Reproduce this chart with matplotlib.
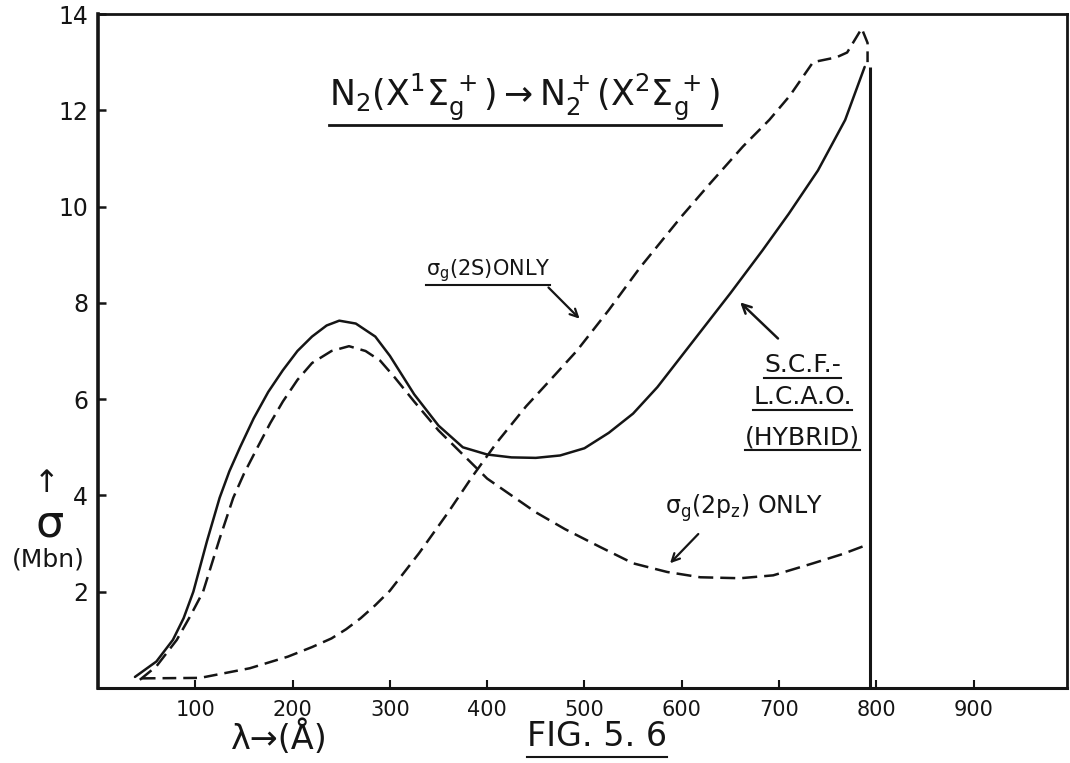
import matplotlib
matplotlib.use("Agg")
import matplotlib.pyplot as plt
from matplotlib.lines import Line2D

# ---------------- data ----------------
lam_hybrid = [38, 60, 77, 88, 98, 112, 125, 135, 146, 160, 175, 190, 205, 220, 235, 248, 265, 285,
              300, 325, 350, 375, 400, 425, 450, 475, 500, 525, 550, 575, 600, 625, 650, 683, 710,
              740, 768, 788]
sig_hybrid = [0.23, 0.55, 1.0, 1.45, 2.0, 3.05, 3.95, 4.5, 5.0, 5.6, 6.15, 6.6, 7.0, 7.3, 7.53, 7.63, 7.57, 7.3,
              6.9, 6.1, 5.45, 5.0, 4.85, 4.79, 4.78, 4.83, 4.98, 5.3, 5.7, 6.25, 6.9, 7.55, 8.2, 9.09, 9.85,
              10.75, 11.8, 12.9]

lam_2p = [43, 60, 81, 95, 108, 125, 139, 150, 164, 177, 190, 205, 220, 240, 258, 275, 290, 305, 325,
          350, 375, 400, 425, 450, 480, 516, 550, 585, 619, 660, 694, 735, 765, 790]
sig_2p = [0.17, 0.45, 1.0, 1.5, 2.0, 3.1, 3.95, 4.45, 5.0, 5.5, 5.95, 6.4, 6.75, 7.0, 7.1, 7.0, 6.8, 6.45, 5.95,
          5.35, 4.85, 4.35, 4.0, 3.65, 3.3, 2.93, 2.59, 2.41, 2.3, 2.28, 2.34, 2.59, 2.78, 2.97]

lam_2s = [45, 105, 156, 195, 220, 240, 255, 270, 285, 300, 330, 360, 385, 410, 440, 465, 492, 525,
          557, 600, 630, 663, 690, 711, 735, 759, 770, 785, 791, 791]
sig_2s = [0.2, 0.21, 0.41, 0.65, 0.85, 1.03, 1.22, 1.45, 1.72, 2.02, 2.8, 3.65, 4.4, 5.1, 5.85, 6.4, 7.0, 7.85,
          8.73, 9.8, 10.5, 11.25, 11.8, 12.3, 13.0, 13.1, 13.2, 13.7, 13.4, 13.0]

threshold_lam = 793          # vertical line (ionisation threshold)
x_ticks = [100, 200, 300, 400, 500, 600, 700, 800, 900]
y_ticks = [2, 4, 6, 8, 10, 12, 14]

title_txt = r"$\mathregular{N_2(X^1\Sigma_g^{\,+}) \rightarrow N_2^+(X^2\Sigma_g^{\,+})}$"
label_2s = r"$\mathregular{\sigma_g}$(2S)ONLY"
label_2p = r"$\mathregular{\sigma_g(2p_z)}$ ONLY"
label_hyb = ["S.C.F.-", "L.C.A.O.", "(HYBRID)"]

# ---------------- figure ----------------
W, H = 1070, 763
fig = plt.figure(figsize=(W / 100, H / 100), dpi=100)
fig.patch.set_facecolor("white")
ax = fig.add_axes([98 / W, 75 / H, 969 / W, 674 / H])
ax.set_xlim(0, 996)
ax.set_ylim(0, 13.98)

ink = "#151515"
ax.plot(lam_hybrid, sig_hybrid, color=ink, lw=1.8, solid_capstyle="round", solid_joinstyle="round")
ax.plot(lam_2p, sig_2p, color=ink, lw=1.8, dashes=(6.0, 2.8))
ax.plot(lam_2s, sig_2s, color=ink, lw=1.8, dashes=(5.5, 2.8))
ax.vlines(threshold_lam, 0, sig_hybrid[-1], color=ink, lw=2.2)

for side, w in [("left", 2.6), ("bottom", 2.2), ("top", 2.0), ("right", 2.0)]:
    ax.spines[side].set_linewidth(w)
    ax.spines[side].set_color(ink)

ax.set_xticks(x_ticks)
ax.set_xticklabels([str(v) for v in x_ticks])
ax.set_yticks(y_ticks)
ax.set_yticklabels([str(v) for v in y_ticks])
ax.tick_params(axis="x", direction="in", length=6, width=1.5, pad=9, labelsize=15, colors=ink)
ax.tick_params(axis="y", direction="in", length=6, width=1.8, pad=7, labelsize=17, colors=ink)

# title
t = ax.text(439, 12.26, title_txt, ha="center", va="center", fontsize=25, color=ink)

# annotations
a1 = ax.text(401, 8.67, label_2s, ha="center", va="center", fontsize=15, color=ink)
ax.annotate("", xy=(497, 7.63), xytext=(461, 8.36),
            arrowprops=dict(arrowstyle="->", color=ink, lw=1.6, mutation_scale=14))

a2 = ax.text(664, 3.73, label_2p, ha="center", va="center", fontsize=17, color=ink)
ax.annotate("", xy=(586, 2.55), xytext=(619, 3.24),
            arrowprops=dict(arrowstyle="->", color=ink, lw=1.6, mutation_scale=14))

h_texts = []
for s, yv in zip(label_hyb, [6.70, 6.04, 5.21]):
    h_texts.append(ax.text(724, yv, s, ha="center", va="center", fontsize=18, color=ink))
ax.annotate("", xy=(658, 8.05), xytext=(701, 7.22),
            arrowprops=dict(arrowstyle="->", color=ink, lw=1.8, mutation_scale=16))

# axis labels (figure pixel coordinates, measured from top-left)
def ftxt(x, y, s, **kw):
    return fig.text(x / W, 1 - y / H, s, ha="center", va="center", color=ink, **kw)

ftxt(47, 484, "↑", fontsize=22)
ftxt(50, 524, "σ", fontsize=32)
ftxt(48, 560, "(Mbn)", fontsize=18)
ftxt(279, 738, "λ→(Å)", fontsize=24)
fig_t = ftxt(597, 737, "FIG. 5. 6", fontsize=24)

# underlines
fig.canvas.draw()
rend = fig.canvas.get_renderer()

def underline(artist, gap=3, lw=1.6):
    bb = artist.get_window_extent(renderer=rend)
    y = bb.y0 - gap
    fig.add_artist(Line2D([bb.x0 / W, bb.x1 / W], [y / H, y / H],
                          transform=fig.transFigure, color=ink, lw=lw))

underline(t, gap=2, lw=2.0)
underline(a1, gap=1, lw=1.5)
for ht in h_texts:
    underline(ht, gap=1, lw=1.5)
underline(fig_t, gap=3, lw=1.5)

fig.savefig("out.png", dpi=100, facecolor="white")
